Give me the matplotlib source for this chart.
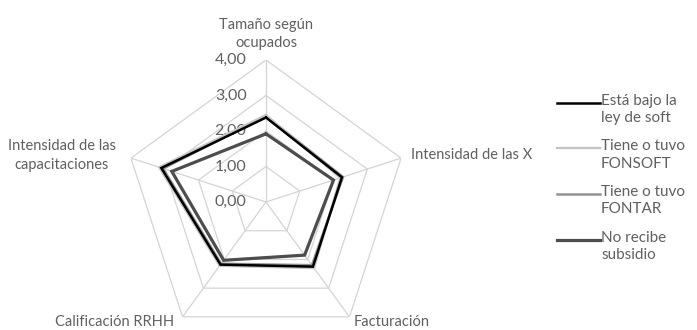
import matplotlib
matplotlib.use("Agg")
import matplotlib.pyplot as plt
from matplotlib.lines import Line2D
import numpy as np

plt.rcParams["font.family"] = ["Lato", "DejaVu Sans"]

categories = [
    "Tamaño según\nocupados",
    "Intensidad de las X",
    "Facturación",
    "Calificación RRHH",
    "Intensidad de las\ncapacitaciones",
]
series_labels = [
    "Está bajo la\nley de soft",
    "Tiene o tuvo\nFONSOFT",
    "Tiene o tuvo\nFONTAR",
    "No recibe\nsubsidio",
]
ley_soft = [2.38, 2.25, 2.25, 2.18, 3.10]
fonsoft = [2.45, 2.20, 2.30, 2.22, 3.16]
fontar = [2.42, 2.28, 2.20, 2.15, 3.05]
no_subsidio = [1.92, 2.00, 1.85, 2.03, 2.79]
r_ticks = [0, 1, 2, 3, 4]
r_tick_labels = ["0,00", "1,00", "2,00", "3,00", "4,00"]

values = [ley_soft, fonsoft, fontar, no_subsidio]
colors = ["#000000", "#c4c4c4", "#939393", "#4d4d4d"]
widths = [1.8, 1.7, 1.8, 2.3]
text_color = "#606060"
grid_color = "#d4d4d4"

W, H = 697, 330
cx, cy, R = 266, 202, 142

fig = plt.figure(figsize=(W / 100, H / 100), dpi=100)
ax = fig.add_axes([(cx - R) / W, 1 - (cy + R) / H, 2 * R / W, 2 * R / H], projection="polar")
ax.set_theta_offset(np.pi / 2)
ax.set_theta_direction(-1)
ax.set_ylim(0, 4)
ax.grid(False)
ax.set_xticks([])
ax.set_yticks([])
ax.spines["polar"].set_visible(False)
ax.patch.set_alpha(0)

n = len(categories)
angles = np.linspace(0, 2 * np.pi, n, endpoint=False)
closed = np.append(angles, angles[0])

# pentagon rings and spokes
for lvl in r_ticks[1:]:
    ax.plot(closed, [lvl] * (n + 1), color=grid_color, lw=0.9, zorder=1)
for a in angles:
    ax.plot([a, a], [0, r_ticks[-1]], color=grid_color, lw=0.9, zorder=1)

for lvl, lab in zip(r_ticks, r_tick_labels):
    ax.annotate(lab, xy=(0, lvl), xytext=(-14, 0), textcoords="offset points",
                ha="right", va="center", fontsize=11.5, color=text_color, zorder=2)

# series, drawn back to front
for vals, col, lw in reversed(list(zip(values, colors, widths))):
    ax.plot(closed, list(vals) + [vals[0]], color=col, lw=lw, zorder=3,
            solid_joinstyle="miter")

# category labels around the outer ring
label_pos = [
    ((0, 7), "center", "bottom"),
    ((7, 2), "left", "center"),
    ((3, -4), "left", "center"),
    ((-6, -4), "right", "center"),
    ((-11, 2), "right", "center"),
]
for a, cat, (off, ha, va) in zip(angles, categories, label_pos):
    ax.annotate(cat, xy=(a, r_ticks[-1]), xytext=off, textcoords="offset points",
                ha=ha, va=va, ma="center", fontsize=10.5, color=text_color,
                annotation_clip=False, linespacing=1.4)

# legend: handle sits on the first line of each two-line entry
x0, x1 = 557 / W, 600 / W
for i, (lab, col, lw) in enumerate(zip(series_labels, colors, widths)):
    y = 1 - (103 + 45.5 * i) / H
    fig.add_artist(Line2D([x0, x1], [y, y], transform=fig.transFigure, color=col, lw=lw))
    fig.text(x1 + 1 / W, y + 9 / H, lab, ha="left", va="top", fontsize=11,
             color=text_color, linespacing=1.3)

fig.savefig("out.png", dpi=100, facecolor="white")
